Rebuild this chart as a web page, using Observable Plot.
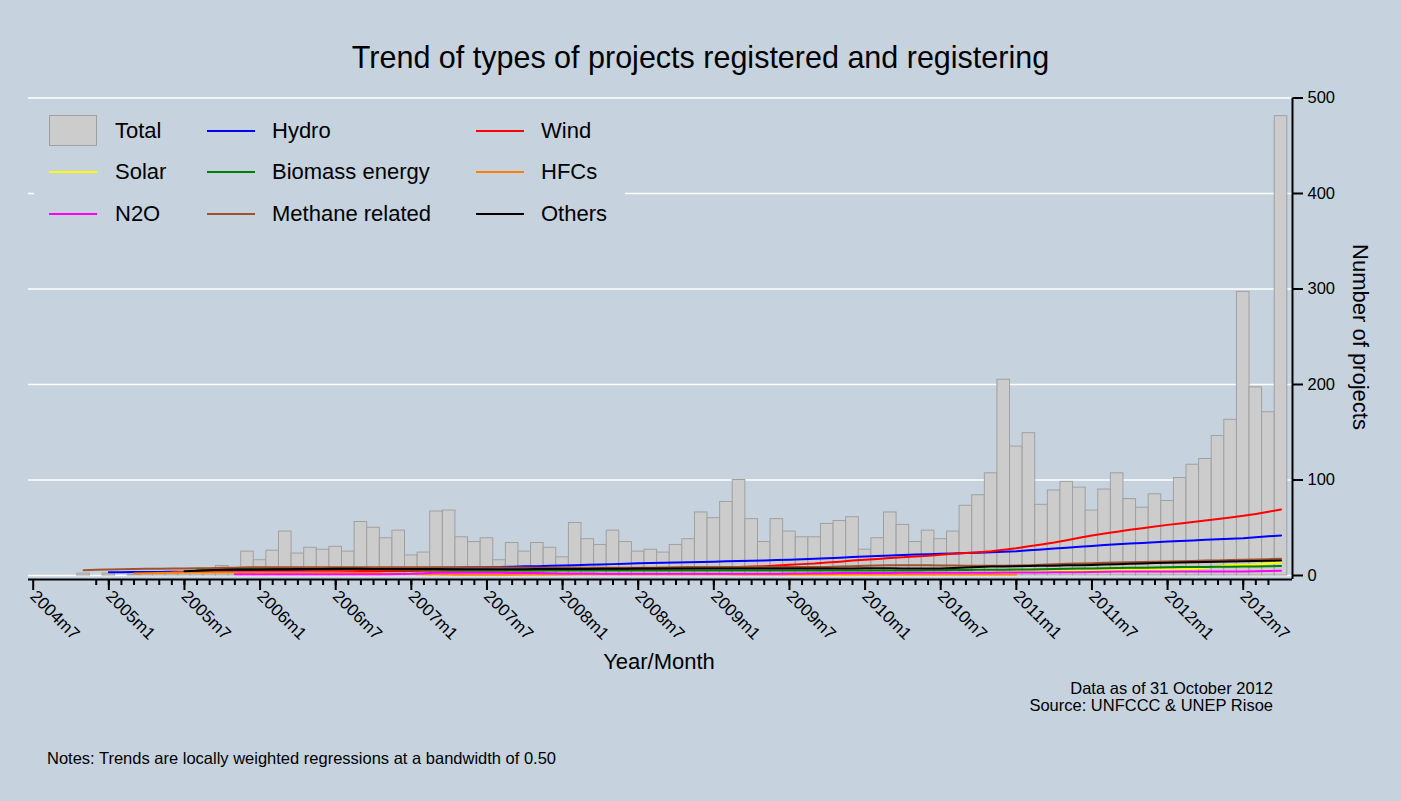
<!DOCTYPE html>
<html><head><meta charset="utf-8">
<script src="https://cdn.jsdelivr.net/npm/d3@7"></script>
<script src="https://cdn.jsdelivr.net/npm/@observablehq/plot@0.6"></script>
<style>
html,body{margin:0;padding:0;background:#c6d3df;}
#page{position:relative;width:1401px;height:801px;overflow:hidden;background:#c6d3df;font-family:"Liberation Sans",Arial,sans-serif;color:#000;}
.abs{position:absolute;white-space:nowrap;}
#chart svg{position:absolute;left:0;top:85px;}
</style></head><body><div id="page"><div id="chart"></div></div>
<script>
// ---- data (month index 0 = 2004m7) ----
const monthStart = 0;
const totalProjects = [
  0,0,0,0,2,0,2,0,1,3,
  2,4,3,5,6,10,6,25,16,26,
  46,23,29,27,30,25,56,50,39,47,
  21,24,67,68,40,35,39,16,34,25,
  34,29,19,55,38,32,47,35,25,27,
  24,32,38,66,60,77,100,59,35,59,
  46,40,40,54,57,61,27,39,66,53,
  35,47,38,46,73,84,107,205,135,149,
  74,89,98,92,68,90,107,80,71,85,
  78,102,116,122,146,163,297,197,171,481
];
const xTickMonths = [0,6,12,18,24,30,36,42,48,54,60,66,72,78,84,90,96];
const xTickLabels = ["2004m7","2005m1","2005m7","2006m1","2006m7","2007m1","2007m7","2008m1","2008m7","2009m1","2009m7","2010m1","2010m7","2011m1","2011m7","2012m1","2012m7"];
const minorTickFirst = 5, minorTickLast = 98;
const yTicks = [0,100,200,300,400,500];

const hydroStart = 6;
const hydro = [3.5,3.5,3.6,3.6,3.7,3.8,4.0,4.2,4.4,4.6,
  4.8,5.0,5.2,5.4,5.6,5.8,6.0,6.2,6.4,6.6,
  6.8,7.0,7.2,7.4,7.6,7.8,8.0,8.2,8.4,8.5,
  8.6,8.8,9.2,9.6,9.8,10.1,10.4,10.8,11.2,11.5,
  11.9,12.3,12.7,13.0,13.3,13.6,13.9,14.2,14.5,14.8,
  15.1,15.4,15.8,16.2,16.6,17.0,17.5,18.1,18.7,19.4,
  20.0,20.5,21.0,21.5,21.9,22.3,22.7,23.1,23.5,23.9,
  24.4,24.9,25.5,26.4,27.3,28.2,29.1,30.0,31.0,31.8,
  32.6,33.4,34.1,34.9,35.6,36.2,36.7,37.3,37.9,38.4,
  39.0,40.0,41.0,42.0];
const windStart = 11;
const wind = [3.5,3.6,3.7,3.8,3.9,4.0,4.0,4.1,4.2,4.2,
  4.3,4.3,4.4,4.4,4.5,4.6,4.6,4.7,4.8,4.8,
  4.9,5.0,5.0,5.1,5.2,5.3,5.3,5.4,5.5,5.6,
  5.7,5.8,5.9,6.0,6.2,6.3,6.5,6.6,6.8,7.0,
  7.3,7.6,7.9,8.2,8.5,8.9,9.3,9.8,10.5,11.2,
  11.9,12.6,13.6,14.5,15.6,16.6,17.3,18.2,19.0,19.9,
  20.7,21.8,22.8,23.6,24.4,25.4,27.0,28.6,30.5,32.5,
  34.5,37.0,39.5,41.9,43.9,45.8,47.8,49.5,51.2,53.0,
  54.5,56.0,57.6,59.2,60.8,62.5,64.5,66.8,69.1];
const solarStart = 60;
const solar = [0.5,0.6,0.7,0.8,0.9,1.0,1.1,1.2,1.3,1.4,
  1.5,1.7,1.9,2.1,2.3,2.5,2.8,3.1,3.4,3.7,
  4.0,4.3,4.6,4.9,5.2,5.4,5.6,5.8,5.9,6.0,
  6.1,6.3,6.8,8.0,9.6,10.6,11.1,11.6,12.6,13.6];
const biomassStart = 13;
const biomass = [5.5,6.0,6.4,6.8,7.1,7.3,7.3,7.3,7.3,7.3,
  7.3,7.2,7.1,6.9,6.7,6.5,6.3,6.1,5.9,5.7,
  5.5,5.3,5.2,5.2,5.2,5.2,5.2,5.2,5.2,5.2,
  5.2,5.2,5.2,5.2,5.2,5.2,5.1,5.1,5.1,5.1,
  5.1,5.1,5.1,5.1,5.1,5.1,5.1,5.1,5.1,5.1,
  5.1,5.2,5.2,5.2,5.2,5.2,5.2,5.2,5.4,5.6,
  5.7,5.8,5.9,5.9,6.0,6.2,6.4,6.6,6.8,7.0,
  7.2,7.4,7.6,7.8,8.0,8.2,8.4,8.6,8.8,8.9,
  9.0,9.1,9.2,9.3,9.4,9.6,10.0];
const hfcStart = 8;
const hfc = [2.0,2.4,2.7,2.9,3.0,3.1,3.1,3.1,3.1,3.1,
  3.1,3.1,3.1,3.1,3.1,3.1,3.0,2.9,2.7,2.5,
  2.2,2.0,1.7,1.4,1.2,1.0,0.9,0.8,0.8,0.9,
  0.9,1.0,1.0,1.1,1.1,1.2,1.2,1.2,1.2,1.2,
  1.2,1.2,1.2,1.2,1.2,1.2,1.2,1.2,1.1,1.1,
  1.1,1.1,1.1,1.1,1.1,1.1,1.0,1.0,1.0,1.0,
  1.0,1.0,1.0,1.0,1.0,1.0,1.0,1.0,1.0,1.0,1.0];
const n2oStart = 16;
const n2o = [1.4,1.4,1.4,1.4,1.4,1.4,1.4,1.4,1.4,1.4,
  1.4,1.4,1.4,1.5,1.8,2.4,2.8,2.9,2.9,2.9,
  2.8,2.8,2.7,2.6,2.5,2.4,2.2,2.1,2.0,1.9,
  1.8,1.7,1.7,1.7,1.7,1.7,1.7,1.7,1.7,1.7,
  1.7,1.8,1.8,1.9,2.0,2.1,2.3,2.4,2.5,2.6,
  2.6,2.7,2.7,2.8,2.8,2.8,2.8,2.8,2.8,2.9,
  2.9,3.0,3.1,3.1,3.2,3.3,3.4,3.5,3.7,3.9,
  4.1,4.2,4.2,4.2,4.2,4.2,4.2,4.2,4.2,4.2,
  4.2,4.4,4.7,4.9];
const methaneStart = 4;
const methane = [5.6,5.9,6.2,6.6,6.8,7.0,7.1,7.3,7.4,7.6,
  7.7,8.0,8.2,8.5,8.7,8.7,8.7,8.7,8.7,8.7,
  8.7,8.7,8.7,8.7,8.7,8.7,8.7,8.7,8.7,8.7,
  8.7,8.7,8.6,8.5,8.4,8.3,8.2,8.1,8.0,8.0,
  8.0,8.0,8.0,8.0,8.0,8.2,8.4,8.6,8.8,8.9,
  8.9,8.9,8.9,8.9,8.9,8.9,8.9,8.9,8.9,9.0,
  9.4,9.8,10.2,10.5,10.8,10.8,10.7,10.6,10.5,10.4,
  10.3,10.2,10.2,10.3,10.5,10.8,11.2,11.7,12.2,12.6,
  12.9,13.3,13.6,13.9,14.2,14.4,14.7,15.0,15.3,15.6,
  15.8,16.1,16.4,16.8,17.1,17.5];
const othersStart = 12;
const others = [4.5,5.0,5.5,6.0,6.2,6.3,6.4,6.5,6.6,6.7,
  6.8,6.9,7.0,7.0,7.0,6.9,6.9,6.8,6.8,6.7,
  6.7,6.6,6.6,6.6,6.6,6.6,6.6,6.6,6.7,6.7,
  6.8,6.8,6.9,7.0,7.0,7.1,7.2,7.3,7.3,7.3,
  7.3,7.3,7.3,7.3,7.3,7.3,7.3,7.3,7.3,7.3,
  7.3,7.3,7.3,7.4,7.5,7.5,7.5,7.4,7.3,7.3,
  7.4,7.8,8.4,9.0,9.3,9.5,9.7,9.9,10.1,10.3,
  10.6,10.8,11.0,11.4,11.8,12.2,12.6,13.0,13.3,13.6,
  13.9,14.1,14.4,14.7,15.0,15.2,15.5,15.7];

const seriesNames = ["Hydro","Wind","Solar","Biomass energy","HFCs","N2O","Methane related","Others"];
const seriesColors = ["#0000ff","#ff0000","#ffff00","#008000","#ff8000","#ff00ff","#a0522d","#000000"];
const seriesStarts = [hydroStart,windStart,solarStart,biomassStart,hfcStart,n2oStart,methaneStart,othersStart];
const seriesValues = [hydro,wind,solar,biomass,hfc,n2o,methane,others];
const legendOrder = ["Total","Hydro","Wind","Solar","Biomass energy","HFCs","N2O","Methane related","Others"];

// ---- build tables ----
const bars = totalProjects.map((v,k)=>({i:monthStart+k, v})).filter(d=>d.v>0);
const lines = seriesNames.map((name,s)=>({
  name, color: seriesColors[s],
  data: seriesValues[s].map((v,k)=>({i: seriesStarts[s]+k, v}))
}));
const tickLabel = new Map(xTickMonths.map((m,k)=>[m,xTickLabels[k]]));
const minorTicks = d3.range(minorTickFirst, minorTickLast+1);

const xDomain = [-0.373, 99.91];
const yDomain = [-4.2, 500];

const chart = Plot.plot({
  width: 1401, height: 564,
  marginLeft: 28, marginRight: 109, marginTop: 12.5, marginBottom: 70,
  style: {background:"transparent", color:"black", fontFamily:'"Liberation Sans",Arial,sans-serif', overflow:"visible"},
  x: {type:"linear", domain: xDomain},
  y: {domain: yDomain},
  marks: [
    Plot.ruleY(yTicks, {stroke:"white", strokeWidth:1.3}),
    Plot.rect(bars, {x1: d=>d.i-0.5, x2: d=>d.i+0.5, y1: 0, y2: "v", fill:"#cccccc", stroke:"#a0a0a0", strokeWidth:1}),
    ...lines.map(L => Plot.line(L.data, {x:"i", y:"v", stroke:L.color, strokeWidth:2})),
    Plot.ruleY([yDomain[0]], {stroke:"black", strokeWidth:2}),
    Plot.ruleX([xDomain[1]], {stroke:"black", strokeWidth:2}),
    Plot.axisX({ticks: minorTicks, tickSize: 6, strokeWidth: 2, tickFormat: () => "", label: null}),
    Plot.axisX({ticks: xTickMonths, tickSize: 11, tickPadding: 3, strokeWidth: 2, tickRotate: 45, fontSize: 17, tickFormat: d => tickLabel.get(d), label: null}),
    Plot.axisY({ticks: yTicks, anchor: "right", tickSize: 10, tickPadding: 5, strokeWidth: 2, fontSize: 16.5, label: null})
  ]
});
const page = document.getElementById("page");
document.getElementById("chart").appendChild(chart);

function addText(txt, opts){
  const d = document.createElement("div");
  d.className = "abs";
  d.textContent = txt;
  Object.assign(d.style, opts);
  page.appendChild(d);
  return d;
}
// title
addText("Trend of types of projects registered and registering", {left:"0px", width:"1401px", textAlign:"center", top:"41.5px", fontSize:"30.5px", lineHeight:"30px"});
// legend box
const lg = document.createElement("div");
lg.className = "abs";
Object.assign(lg.style, {left:"34px", top:"102px", width:"591px", height:"136px", background:"#c6d3df"});
page.appendChild(lg);
const legendCols = [{sw:49, tx:115},{sw:207, tx:272},{sw:476, tx:541}];
const legendRows = [131,172,214];
legendOrder.forEach((name,k)=>{
  const col = legendCols[k%3], row = legendRows[Math.floor(k/3)];
  const sw = document.createElement("div");
  sw.className = "abs";
  if (name === "Total") {
    Object.assign(sw.style, {left: col.sw+"px", top:(row-16)+"px", width:"46px", height:"29px", background:"#cccccc", border:"1px solid #a0a0a0"});
  } else {
    const s = seriesNames.indexOf(name);
    Object.assign(sw.style, {left: col.sw+"px", top:(row-1)+"px", width:"48px", height:"2px", background: seriesColors[s]});
  }
  page.appendChild(sw);
  addText(name, {left: col.tx+"px", top:(row-11)+"px", fontSize:"22px", lineHeight:"22px"});
});
// y axis title
addText("Number of projects", {left:(1360-120)+"px", width:"240px", textAlign:"center", top:(337-11)+"px", fontSize:"22px", lineHeight:"22px", transform:"rotate(90deg)"});
// x axis title
addText("Year/Month", {left:"559px", width:"200px", textAlign:"center", top:"651px", fontSize:"22px", lineHeight:"22px"});
// captions
addText("Data as of 31 October 2012", {right:(1401-1273)+"px", top:"679.5px", fontSize:"16.5px", lineHeight:"17px", textAlign:"right"});
addText("Source: UNFCCC & UNEP Risoe", {right:(1401-1273)+"px", top:"696.5px", fontSize:"16.5px", lineHeight:"17px", textAlign:"right"});
addText("Notes: Trends are locally weighted regressions at a bandwidth of 0.50", {left:"47px", top:"749.5px", fontSize:"16.5px", lineHeight:"17px"});
</script>
</body></html>
